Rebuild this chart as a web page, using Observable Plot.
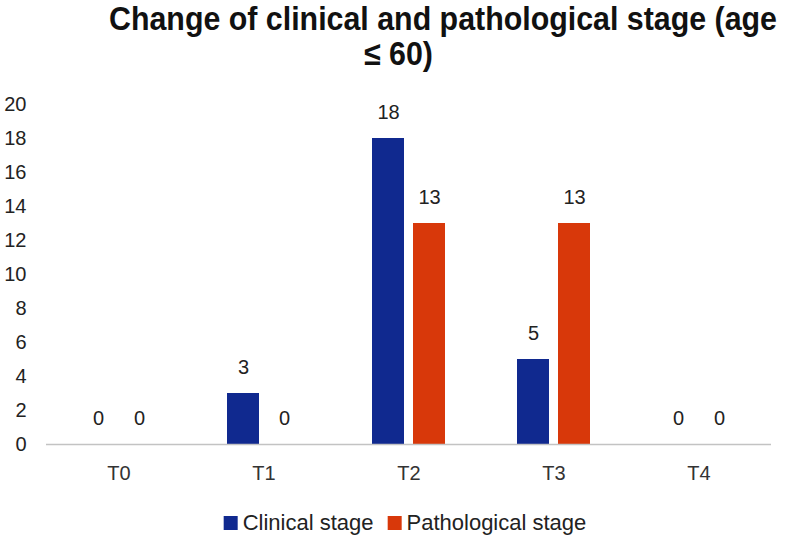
<!DOCTYPE html>
<html>
<head>
<meta charset="utf-8">
<script src="https://cdn.jsdelivr.net/npm/d3@7"></script>
<script src="https://cdn.jsdelivr.net/npm/@observablehq/plot@0.6"></script>
<style>
  html, body { margin: 0; padding: 0; background: #fff; }
  #wrap { position: relative; width: 787px; height: 540px; overflow: hidden; font-family: "Liberation Sans", Arial, sans-serif; }
  .t { position: absolute; white-space: nowrap; font-family: "Liberation Sans", Arial, sans-serif; font-weight: bold; font-size: 33px; line-height: 36px; color: #111; transform-origin: 0 0; }
  #legend { position: absolute; top: 511px; left: 405px; transform: translateX(-50%); display: flex; align-items: center; white-space: nowrap; font-size: 22px; color: #222; line-height: 24px; }
  .sw { display: inline-block; width: 14px; height: 14px; margin-right: 5px; }
  .item { display: flex; align-items: center; margin-right: 14px; }
  .item:last-child { margin-right: 0; }
</style>
</head>
<body>
<div id="wrap">
  <div id="chart"></div>
  <div class="t" id="t1" style="top:1px;">Change of clinical and pathological stage (age</div>
  <div class="t" id="t2" style="top:36px;">≤ 60)</div>
  <div id="legend"></div>
</div>
<script>
const categories = ["T0", "T1", "T2", "T3", "T4"];
const series = ["Clinical stage", "Pathological stage"];
const clinical = [0, 3, 18, 5, 0];
const pathological = [0, 0, 13, 13, 0];
const yTicks = [0, 2, 4, 6, 8, 10, 12, 14, 16, 18, 20];
const colors = ["#10298f", "#d8380a"];

const data = [];
categories.forEach((c, i) => {
  data.push({category: c, series: series[0], value: clinical[i]});
  data.push({category: c, series: series[1], value: pathological[i]});
});

const chart = Plot.plot({
  width: 787,
  height: 500,
  marginLeft: 45,
  marginRight: 15,
  marginTop: 104,
  marginBottom: 56,
  style: {fontFamily: "'Liberation Sans', Arial, sans-serif", background: "transparent"},
  fx: {domain: categories, padding: 0, label: null, axis: null},
  x: {domain: series, paddingInner: 0.214, paddingOuter: 0.838, axis: null},
  y: {domain: [0, 20], label: null, axis: null},
  color: {domain: series, range: colors},
  marks: [
    Plot.axisY({ticks: yTicks, tickSize: 0, tickPadding: 20, fontSize: 20, fill: "#222", label: null}),
    Plot.axisFx({anchor: "bottom", tickSize: 0, tickPadding: 21, fontSize: 20, fill: "#333", label: null}),
    Plot.barY(data, {fx: "category", x: "series", y: "value", fill: "series"}),
    Plot.ruleY([0], {stroke: "#c3c3c3", strokeWidth: 1.5}),
    Plot.text(data, {fx: "category", x: "series", y: "value", text: d => String(d.value), dy: -26, fontSize: 20, fill: "#222"})
  ]
});
document.getElementById("chart").appendChild(chart);

// title: condensed to match reference width
const t1 = document.getElementById("t1");
const t2 = document.getElementById("t2");
const w1 = t1.getBoundingClientRect().width;
const sx = 668 / w1;
t1.style.transform = `scaleX(${sx})`;
t1.style.left = (443 - 668 / 2) + "px";
const w2 = t2.getBoundingClientRect().width * sx;
t2.style.transform = `scaleX(${sx})`;
t2.style.left = (398 - w2 / 2) + "px";

const legend = document.getElementById("legend");
series.forEach((s, i) => {
  const item = document.createElement("div");
  item.className = "item";
  const sw = document.createElement("span");
  sw.className = "sw";
  sw.style.background = colors[i];
  item.appendChild(sw);
  item.appendChild(document.createTextNode(s));
  legend.appendChild(item);
});
</script>
</body>
</html>
